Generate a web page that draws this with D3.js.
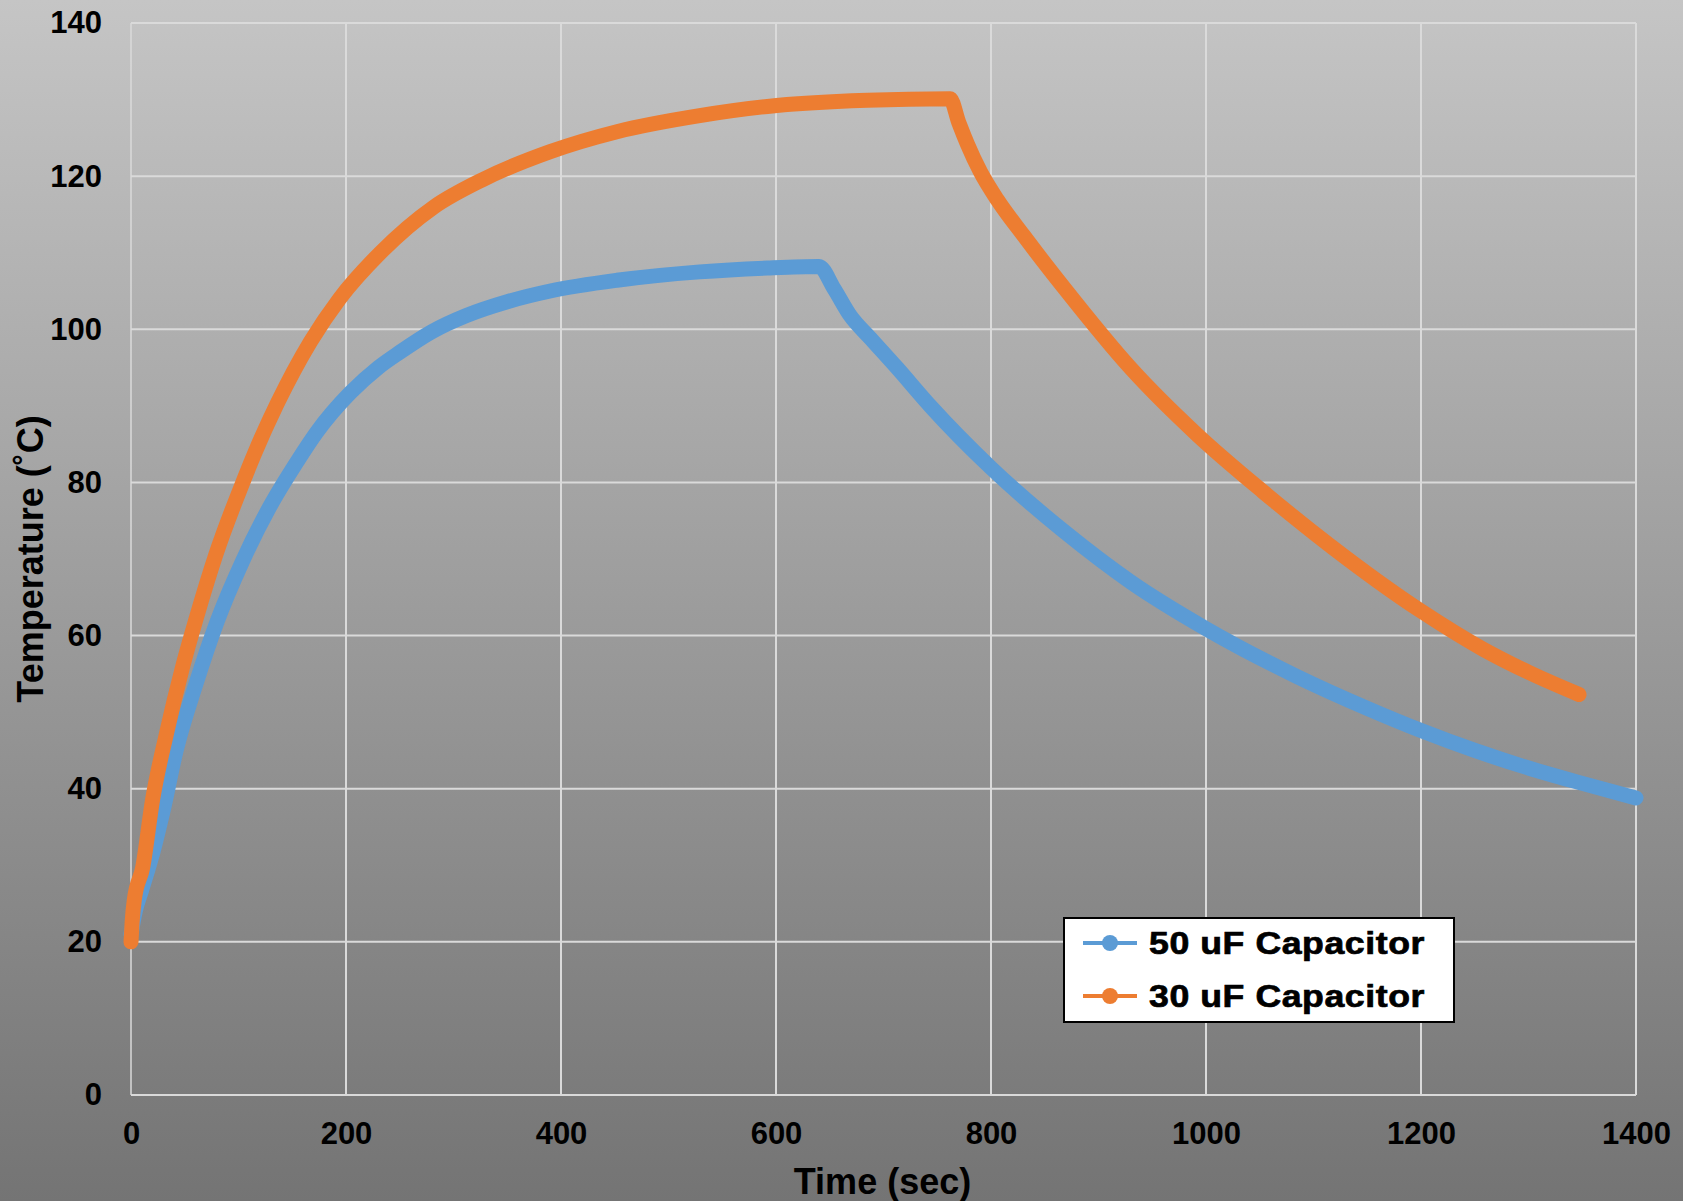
<!DOCTYPE html>
<html>
<head>
<meta charset="utf-8">
<script src="https://cdn.jsdelivr.net/npm/d3@7"></script>
<style>
  body { margin: 0; padding: 0; background: #999; }
  svg { display: block; }
</style>
</head>
<body>
<div id="chart"></div>
<script>
// data
var seriesNames = ["50 uF Capacitor", "30 uF Capacitor"];
var seriesColors = ["#5B9BD5", "#ED7D31"];

var time50 = [0, 4, 10, 20, 30, 42, 60, 80, 104, 129, 154, 173, 204, 230, 250, 280, 312, 350, 390, 452, 529, 592, 640,
              654, 669, 688, 713, 744, 800, 868, 930, 1000, 1084, 1150, 1200, 1250, 1300, 1350, 1400];
var temp50 = [21, 24, 26.8, 31.5, 37.2, 45, 53.5, 61.8, 69.8, 76.8, 82.6, 86.6, 91.7, 95.0, 97.0, 99.7, 101.8, 103.6, 105.0, 106.4, 107.5, 108.0, 108.2,
              105.3, 101.8, 98.8, 94.9, 89.9, 81.9, 73.6, 67.0, 60.9, 54.7, 50.5, 47.6, 45.0, 42.7, 40.7, 38.8];

var time30 = [0, 1, 3, 11, 20, 33, 48, 61, 79, 104, 115, 136, 167, 194, 232, 281, 328, 390, 452, 529, 592, 685, 762,
              770, 778, 790, 806, 830, 868, 930, 992, 1053, 1115, 1200, 1258, 1300, 1347];
var temp30 = [20, 22.5, 25.4, 29.8, 38.5, 47.2, 55.9, 62.4, 70.6, 80.0, 83.8, 90.3, 98.4, 104.0, 110.0, 115.9, 119.6, 123.2, 125.8, 127.9, 129.1, 129.9, 130.1,
              127.0, 124.2, 120.6, 116.9, 112.3, 105.4, 94.9, 86.2, 78.8, 71.8, 63.2, 58.2, 55.2, 52.3];

var xTicks = [0, 200, 400, 600, 800, 1000, 1200, 1400];
var yTicks = [0, 20, 40, 60, 80, 100, 120, 140];

var W = 1683, H = 1201;
var margin = {top: 23, right: 47, bottom: 106, left: 131};
var width = W - margin.left - margin.right,
    height = H - margin.top - margin.bottom;

var svg = d3.select("#chart")
  .append("svg")
    .attr("width", W)
    .attr("height", H);

var grad = svg.append("defs").append("linearGradient")
    .attr("id", "bg")
    .attr("x1", 0).attr("y1", 0).attr("x2", 0).attr("y2", 1);
grad.append("stop").attr("offset", "0%").attr("stop-color", "#c5c5c5");
grad.append("stop").attr("offset", "100%").attr("stop-color", "#747474");

svg.append("rect")
    .attr("width", W)
    .attr("height", H)
    .attr("fill", "url(#bg)");

var g = svg.append("g")
    .attr("transform", "translate(" + margin.left + "," + margin.top + ")");

var x = d3.scaleLinear().domain([0, 1400]).range([0, width]);
var y = d3.scaleLinear().domain([0, 140]).range([height, 0]);

// gridlines
g.append("g")
  .selectAll("line")
  .data(yTicks)
  .enter()
  .append("line")
    .attr("x1", 0).attr("x2", width)
    .attr("y1", function(d) { return y(d); })
    .attr("y2", function(d) { return y(d); })
    .attr("stroke", "#dadada")
    .attr("stroke-width", 2);

g.append("g")
  .selectAll("line")
  .data(xTicks)
  .enter()
  .append("line")
    .attr("y1", 0).attr("y2", height)
    .attr("x1", function(d) { return x(d); })
    .attr("x2", function(d) { return x(d); })
    .attr("stroke", "#dadada")
    .attr("stroke-width", function(d) { return d === 0 ? 1.5 : 2; });

// axes, text only
var xAxis = g.append("g")
    .attr("transform", "translate(0," + height + ")")
    .call(d3.axisBottom(x).tickValues(xTicks).tickSize(0).tickPadding(27).tickFormat(d3.format("d")));
var yAxis = g.append("g")
    .call(d3.axisLeft(y).tickValues(yTicks).tickSize(0).tickPadding(29).tickFormat(d3.format("d")));

[xAxis, yAxis].forEach(function(a) {
  a.select(".domain").remove();
  a.selectAll("text")
    .style("font-family", "'Liberation Sans', Arial, sans-serif")
    .style("font-weight", "bold")
    .style("font-size", "31px")
    .attr("fill", "#000");
});

// lines
var series = [
  time50.map(function(t, i) { return {t: t, v: temp50[i]}; }),
  time30.map(function(t, i) { return {t: t, v: temp30[i]}; })
];

var line = d3.line()
    .x(function(d) { return x(d.t); })
    .y(function(d) { return y(d.v); })
    .curve(d3.curveMonotoneX);

g.selectAll(".series")
  .data(series)
  .enter()
  .append("path")
    .attr("class", "series")
    .attr("d", line)
    .attr("fill", "none")
    .attr("stroke", function(d, i) { return seriesColors[i]; })
    .attr("stroke-width", 15)
    .attr("stroke-linecap", "round")
    .attr("stroke-linejoin", "round");

// axis titles
svg.append("text")
    .attr("x", margin.left + width * 0.5 - 1)
    .attr("y", 1194)
    .attr("text-anchor", "middle")
    .style("font-family", "'Liberation Sans', Arial, sans-serif")
    .style("font-weight", "bold")
    .style("font-size", "36px")
    .text("Time (sec)");

svg.append("text")
    .attr("transform", "translate(43," + 559 + ") rotate(-90)")
    .attr("text-anchor", "middle")
    .style("font-family", "'Liberation Sans', Arial, sans-serif")
    .style("font-weight", "bold")
    .style("font-size", "36px")
    .text("Temperature (˚C)");

// legend
var legend = svg.append("g").attr("transform", "translate(1064,918)");
legend.append("rect")
    .attr("width", 390)
    .attr("height", 104)
    .attr("fill", "#fff")
    .attr("stroke", "#000")
    .attr("stroke-width", 2);

var items = legend.selectAll(".item")
  .data(seriesNames)
  .enter()
  .append("g")
    .attr("class", "item")
    .attr("transform", function(d, i) { return "translate(0," + (25 + i * 53) + ")"; });

items.append("line")
    .attr("x1", 19).attr("x2", 73)
    .attr("stroke", function(d, i) { return seriesColors[i]; })
    .attr("stroke-width", 4);
items.append("circle")
    .attr("cx", 46)
    .attr("r", 8)
    .attr("fill", function(d, i) { return seriesColors[i]; });
// excel draws this text wide and heavy
items.append("text")
    .attr("transform", "translate(85,0) scale(1.15,1)")
    .attr("dy", "0.36em")
    .style("font-family", "'Liberation Sans', Arial, sans-serif")
    .style("font-weight", "bold")
    .style("font-size", "31px")
    .style("letter-spacing", "0.5px")
    .attr("stroke", "#000")
    .attr("stroke-width", 0.7)
    .text(function(d) { return d; });
</script>
</body>
</html>
